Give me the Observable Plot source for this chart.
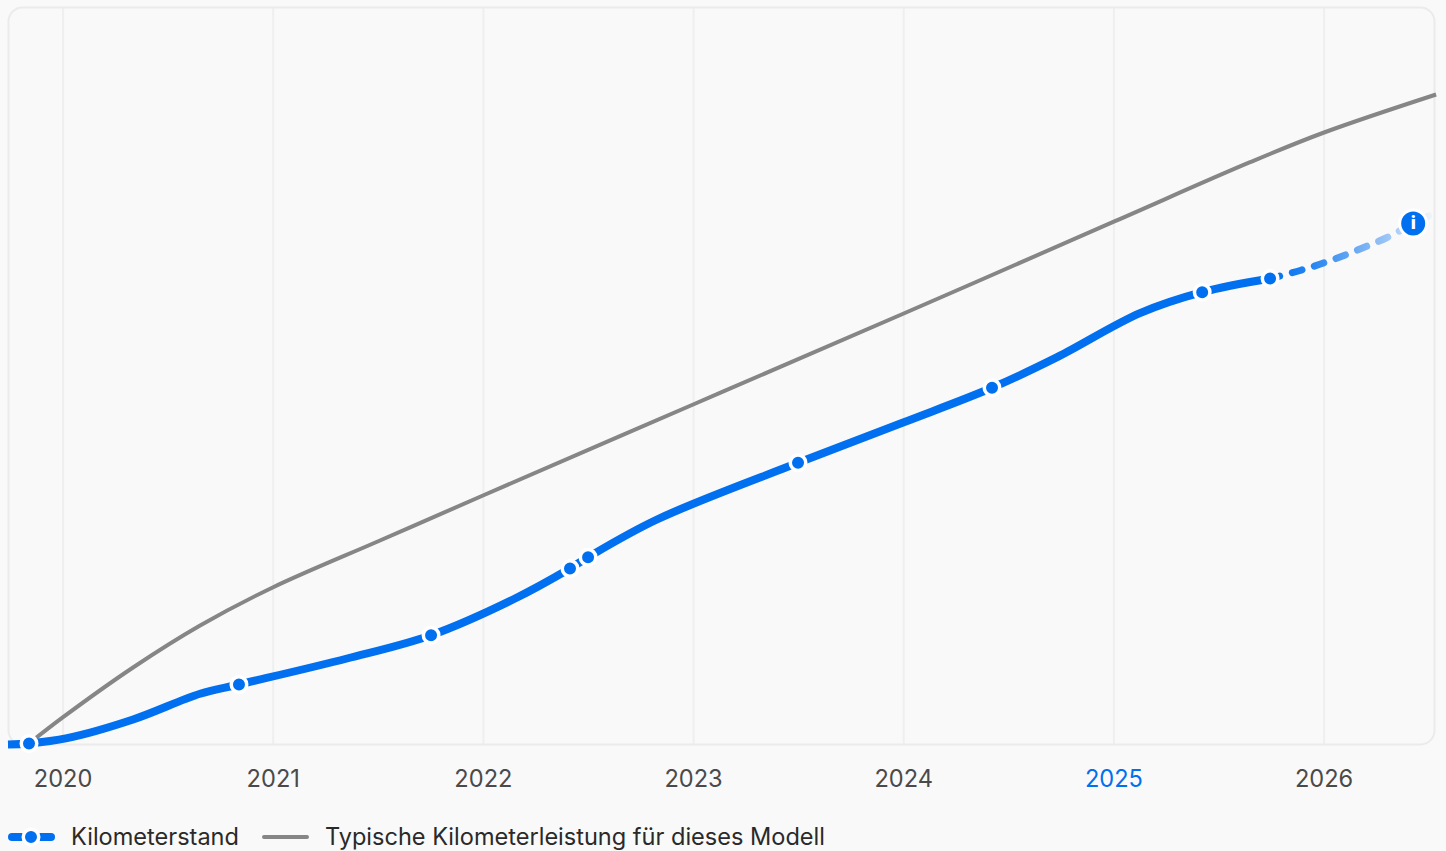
<!DOCTYPE html>
<html lang="de">
<head>
<meta charset="utf-8">
<script src="https://cdn.jsdelivr.net/npm/d3@7"></script>
<script src="https://cdn.jsdelivr.net/npm/@observablehq/plot@0.6"></script>
<style>
html,body{margin:0;padding:0;background:#f9f9f9;overflow:hidden;height:851px}
#chart svg{display:block}
#legend{position:absolute;left:8px;top:821.5px;display:flex;align-items:center;height:30px;font:23.55px Inter,sans-serif;color:#2a2a2a;white-space:nowrap}
#legend svg{display:block;margin-right:16px}
#legend span{margin-right:23px}
</style>
</head>
<body>
<div id="chart"></div>
<div id="legend"></div>
<script>
const years = [2020, 2021, 2022, 2023, 2024, 2025, 2026];
const highlightYear = [2025];
const otherYears = years.filter(y => !highlightYear.includes(y));

const odoYears = [2019.738,2019.838,2020.019,2020.333,2020.652,2020.837,2021.351,2021.751,2022.141,2022.412,2022.498,2022.826,2023.497,2023.997,2024.420,2024.730,2025.124,2025.420,2025.743];
const odoKm = [0,200,1260,5000,10140,12000,17200,21860,29000,35200,37460,45000,56340,64400,71340,77460,86260,90460,93200];

const forecastYears = [2025.743,2025.886,2025.990,2026.095,2026.200,2026.300,2026.424,2026.514];
const forecastKm = [93200,94800,96200,97800,99600,101400,104200,106000];

const readingYears = [2019.838,2020.837,2021.751,2022.412,2022.498,2023.497,2024.420,2025.420,2025.743];
const readingKm = [200,12000,21860,35200,37460,56340,71340,90460,93200];

const typicalYears = [2019.838,2020,2020.333,2020.652,2021,2021.508,2021.998,2022.998,2024,2025.005,2025.648,2026,2026.533];
const typicalKm = [200,5460,15400,23800,31460,40800,49800,68000,86200,104660,116460,122400,130000];

const infoPoint = [{year: 2026.424, km: 104200}];

const BLUE = "#0070f0";
const zip = (xs, ys) => xs.map((year, i) => ({year, km: ys[i]}));

const fadeDefs = () => {
  const defs = d3.create("svg:defs");
  const g = defs.append("linearGradient").attr("id", "fade");
  g.append("stop").attr("offset", "0%").attr("stop-color", BLUE).attr("stop-opacity", 1);
  g.append("stop").attr("offset", "25%").attr("stop-color", BLUE).attr("stop-opacity", 0.85);
  g.append("stop").attr("offset", "75%").attr("stop-color", BLUE).attr("stop-opacity", 0.35);
  g.append("stop").attr("offset", "100%").attr("stop-color", BLUE).attr("stop-opacity", 0.03);
  return defs.node();
};

const chart = Plot.plot({
  width: 1446,
  height: 800,
  marginLeft: 8,
  marginRight: 12,
  marginTop: 7,
  marginBottom: 56,
  style: {background: "transparent", fontFamily: "Inter, sans-serif", overflow: "visible"},
  x: {type: "linear", domain: [2019.7404, 2026.5254]},
  y: {domain: [0, 147400], axis: null},
  marks: [
    fadeDefs,
    Plot.ruleX(years, {stroke: "#efefef", strokeWidth: 2}),
    Plot.frame({stroke: "#ebebeb", strokeWidth: 2, rx: 14, fill: "none"}),
    Plot.axisX(otherYears, {tickSize: 0, tickPadding: 26, fontSize: 23.6, fontVariant: "normal", fill: "#4a4a4a", tickFormat: d => String(d), label: null}),
    Plot.axisX(highlightYear, {tickSize: 0, tickPadding: 26, fontSize: 23.6, fontVariant: "normal", fill: BLUE, tickFormat: d => String(d), label: null}),
    Plot.line(zip(typicalYears, typicalKm), {x: "year", y: "km", stroke: "#868686", strokeWidth: 4, strokeLinecap: "butt", curve: "catmull-rom"}),
    Plot.line(zip(forecastYears, forecastKm), {x: "year", y: "km", stroke: "url(#fade)", strokeWidth: 7, strokeDasharray: "10 13", strokeLinecap: "round", curve: "catmull-rom"}),
    Plot.line(zip(odoYears, odoKm), {x: "year", y: "km", stroke: BLUE, strokeWidth: 8, strokeLinecap: "butt", curve: "catmull-rom"}),
    Plot.dot(zip(readingYears, readingKm), {x: "year", y: "km", r: 7.75, fill: BLUE, stroke: "white", strokeWidth: 3.5}),
    Plot.dot(infoPoint, {x: "year", y: "km", r: 13.5, fill: BLUE, stroke: "white", strokeWidth: 3}),
    Plot.text(infoPoint, {x: "year", y: "km", text: () => "i", fill: "white", fontSize: 18, fontWeight: 800})
  ]
});
document.getElementById("chart").append(chart);

const legend = d3.select("#legend");
const sw1 = legend.append("svg").attr("width", 47).attr("height", 22);
sw1.append("line").attr("x1", 4).attr("x2", 43).attr("y1", 11).attr("y2", 11)
  .attr("stroke", BLUE).attr("stroke-width", 8).attr("stroke-linecap", "round");
sw1.append("circle").attr("cx", 23).attr("cy", 11).attr("r", 7.75).attr("fill", BLUE).attr("stroke", "white").attr("stroke-width", 3.5);
legend.append("span").text("Kilometerstand");
const sw2 = legend.append("svg").attr("width", 47).attr("height", 22);
sw2.append("line").attr("x1", 2).attr("x2", 45).attr("y1", 11).attr("y2", 11)
  .attr("stroke", "#868686").attr("stroke-width", 4).attr("stroke-linecap", "round");
legend.append("span").text("Typische Kilometerleistung für dieses Modell");
</script>
</body>
</html>
